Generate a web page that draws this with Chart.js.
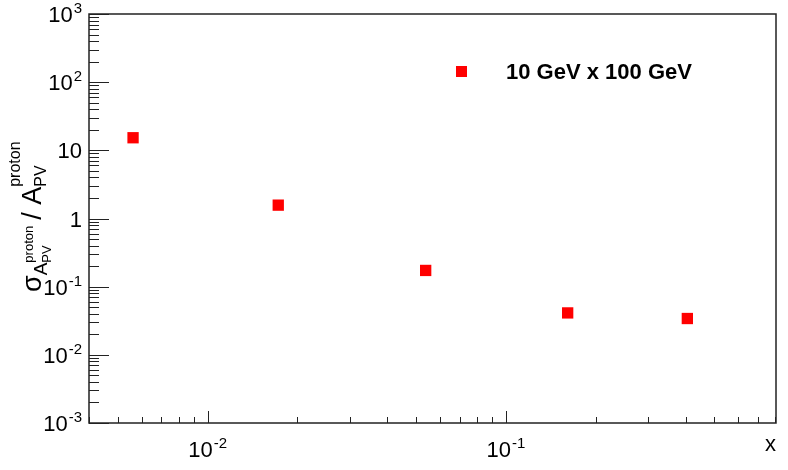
<!DOCTYPE html>
<html>
<head>
<meta charset="utf-8">
<script src="https://cdn.jsdelivr.net/npm/chart.js@4.4.0/dist/chart.umd.min.js"></script>
<style>
    html, body { margin: 0; padding: 0; background: #fff; }
</style>
</head>
<body>
<canvas id="chart" width="788" height="470"></canvas>
<script>
// data
const xValues = [0.00562, 0.01724, 0.0538, 0.161, 0.4055];
const yValues = [15.3, 1.57, 0.173, 0.0412, 0.0341];
const seriesLabel = '10 GeV x 100 GeV';
const xRange = [0.0040, 0.804];
const yRange = [1e-3, 1e3];
const xTickValues = [0.01, 0.1];
const xTickLabels = ['10^-2', '10^-1'];
const yTickValues = [1e-3, 1e-2, 1e-1, 1, 10, 100, 1000];
const yTickLabels = ['10^-3', '10^-2', '10^-1', '1', '10', '10^2', '10^3'];
const xTitle = 'x';

const FONT = '"Liberation Sans", Arial, sans-serif';
const AXIS_COLOR = '#222';

// minor ticks at 1..9 x 10^n inside the range
function logTicks(min, max) {
    const out = [];
    for (let d = Math.floor(Math.log10(min)); d <= Math.ceil(Math.log10(max)); d++) {
        for (let m = 1; m <= 9; m++) {
            const v = m * Math.pow(10, d);
            if (v >= min * 0.9999 && v <= max * 1.0001) out.push({ v, major: m === 1 });
        }
    }
    return out;
}

// draws "10^-2" style text, align: 'right' or 'center'
function drawPowerLabel(ctx, label, x, y, align) {
    const [base, exp] = label.split('^');
    ctx.font = '22px ' + FONT;
    const bw = ctx.measureText(base).width;
    ctx.font = '15px ' + FONT;
    const ew = exp ? ctx.measureText(exp).width + 1 : 0;
    const total = bw + ew;
    let x0 = align === 'right' ? x - total : x - total / 2;
    ctx.textAlign = 'left';
    ctx.textBaseline = 'alphabetic';
    ctx.font = '22px ' + FONT;
    ctx.fillText(base, x0, y);
    if (exp) {
        ctx.font = '15px ' + FONT;
        ctx.fillText(exp, x0 + bw + 1, y - 9);
    }
}

const rootAxes = {
    id: 'rootAxes',
    beforeDatasetsDraw(chart) {
        const { ctx, chartArea: a, scales: { x, y } } = chart;
        ctx.save();
        ctx.strokeStyle = AXIS_COLOR;
        ctx.lineWidth = 1.5;
        ctx.strokeRect(a.left, a.top, a.right - a.left, a.bottom - a.top);

        ctx.lineWidth = 1;
        ctx.beginPath();
        logTicks(xRange[0], xRange[1]).forEach(t => {
            const px = Math.round(x.getPixelForValue(t.v)) + 0.5;
            ctx.moveTo(px, a.bottom);
            ctx.lineTo(px, a.bottom - (t.major ? 12 : 6));
        });
        logTicks(yRange[0], yRange[1]).forEach(t => {
            const py = Math.round(y.getPixelForValue(t.v)) + 0.5;
            ctx.moveTo(a.left, py);
            ctx.lineTo(a.left + (t.major ? 20 : 10), py);
        });
        ctx.stroke();

        ctx.fillStyle = '#000';
        xTickValues.forEach((v, i) => {
            drawPowerLabel(ctx, xTickLabels[i], x.getPixelForValue(v), a.bottom + 34, 'center');
        });
        yTickValues.forEach((v, i) => {
            drawPowerLabel(ctx, yTickLabels[i], a.left - 7, y.getPixelForValue(v) + 8, 'right');
        });

        // x title at the right end
        ctx.font = '22px ' + FONT;
        ctx.textAlign = 'right';
        ctx.fillText(xTitle, a.right, a.bottom + 28);

        // y title: sigma_{A_PV^proton} / A_PV^proton, rotated
        ctx.translate(41, 292);
        ctx.rotate(-Math.PI / 2);
        ctx.textAlign = 'left';
        let cx = 0;
        const put = (txt, size, dy) => {
            ctx.font = size + 'px ' + FONT;
            ctx.fillText(txt, cx, dy);
            return ctx.measureText(txt).width;
        };
        cx += put('\u03c3', 27, 0);
        cx += put('A', 19, 6);
        const w1 = put('proton', 13, -8);
        const w2 = put('PV', 13, 10);
        cx += Math.max(w1, w2) + 6;
        cx += put('/ ', 27, 0);
        cx += put('A', 27, 0);
        const w3 = put('proton', 16, -21);
        const w4 = put('PV', 16, 5);
        cx += Math.max(w3, w4);
        ctx.restore();
    },
    afterDraw(chart) {
        const { ctx } = chart;
        const ds = chart.data.datasets[0];
        ctx.save();
        ctx.fillStyle = ds.backgroundColor;
        ctx.fillRect(456, 66, 11, 11);
        ctx.fillStyle = '#000';
        ctx.font = 'bold 22px ' + FONT;
        ctx.textAlign = 'left';
        ctx.textBaseline = 'alphabetic';
        ctx.fillText(ds.label, 506, 79);
        ctx.restore();
    }
};

new Chart(document.getElementById('chart'), {
    type: 'scatter',
    data: {
        datasets: [{
            label: seriesLabel,
            data: xValues.map((v, i) => ({ x: v, y: yValues[i] })),
            backgroundColor: '#ff0000',
            borderWidth: 0,
            pointStyle: 'rect',
            pointRadius: 8,
            pointHoverRadius: 8
        }]
    },
    options: {
        responsive: false,
        animation: false,
        devicePixelRatio: 1,
        layout: { padding: { left: 89, top: 14, right: 12, bottom: 47 } },
        plugins: { legend: { display: false }, tooltip: { enabled: false } },
        scales: {
            x: { type: 'logarithmic', min: xRange[0], max: xRange[1], display: false },
            y: { type: 'logarithmic', min: yRange[0], max: yRange[1], display: false }
        }
    },
    plugins: [rootAxes]
});
</script>
</body>
</html>
